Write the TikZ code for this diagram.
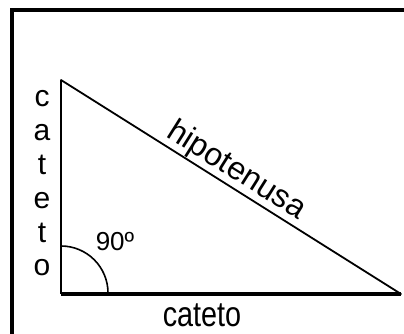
\documentclass[tikz,border=0pt]{standalone}
\usepackage{fontspec}
\setmainfont{Liberation Sans}
\usepackage{tikz}
\tikzset{
  framebox/.style={draw=black, line width=4pt},
  leg/.style={draw=black, line width=2pt, line cap=butt},
  baseleg/.style={draw=black, line width=3.5pt, line cap=butt},
  hyp/.style={draw=black, line width=1.8pt, line cap=round},
  anglearc/.style={draw=black, line width=1.6pt},
  letter/.style={font=\fontsize{30}{32}\selectfont, anchor=base, inner sep=0pt},
  sidelabel/.style={font=\fontsize{32}{36}\selectfont, inner sep=0pt},
  anglelabel/.style={font=\fontsize{26}{30}\selectfont, inner sep=0pt},
}

\begin{document}
\begin{tikzpicture}[x=1pt, y=1pt]
\useasboundingbox (0,0) rectangle (404,334);
\fill[white] (0,0) rectangle (404,334);
\draw[framebox] (12,324) rectangle (430,-30);
\coordinate (A) at (61,254);
\coordinate (C) at (61,40);
\coordinate (B) at (401,40);
\draw[leg] (C) -- (A);
\draw[hyp] (A) -- (B);
\draw[baseleg] (C) -- (B);
\draw[anglearc] (61,88) arc (90:0:47);
\node[anglelabel] (angle) at (115,92) {90º};
\node[sidelabel] (bottom) at (202,19) {\scalebox{0.9}[1.1]{cateto}};
\foreach \ch [count=\i from 0] in {c,a,t,e,t,o}
  \node[letter] (side\i) at (42,227-33.8*\i) {\ch};
\node[letter, font=\fontsize{32}{36}\selectfont, rotate=-32.2] (hypo) at (232,156) {hipotenusa};
\end{tikzpicture}
\end{document}
